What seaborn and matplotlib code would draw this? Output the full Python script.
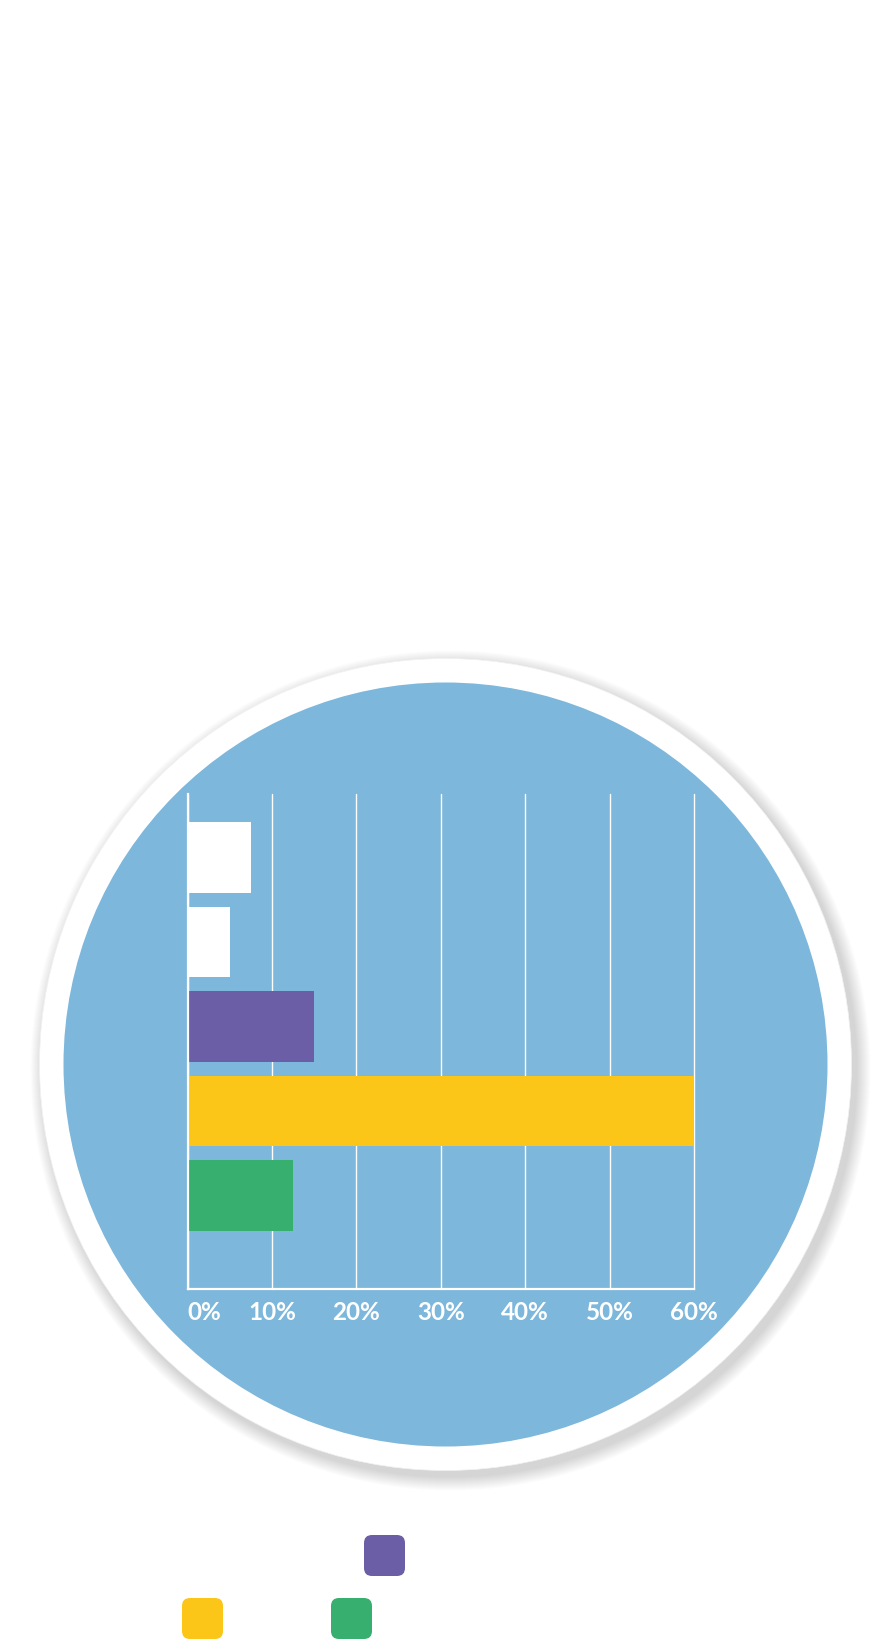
import matplotlib
matplotlib.use('Agg')
import matplotlib.pyplot as plt
from matplotlib.patches import Circle, FancyBboxPatch
import seaborn as sns
import pandas as pd

# Datos del gráfico
categories = ['Categoría 1', 'Categoría 2', 'Categoría 3', 'Categoría 4', 'Categoría 5']
values = [7.5, 5.0, 15.0, 60.0, 12.5]
bar_colors = ['#FFFFFF', '#FFFFFF', '#6B5EA6', '#FBC618', '#37AF6E']
tick_values = [0, 10, 20, 30, 40, 50, 60]
tick_labels = ['0%', '10%', '20%', '30%', '40%', '50%', '60%']

sns.set_theme(style='white')
plt.rcParams['font.family'] = ['Lato', 'DejaVu Sans']

W, H = 890, 1643
fig = plt.figure(figsize=(W / 100, H / 100), dpi=100)
fig.patch.set_facecolor('white')

# Fondo: círculo azul con aro blanco y sombra (coordenadas en píxeles)
bg = fig.add_axes([0, 0, 1, 1], zorder=0)
bg.set_xlim(0, W)
bg.set_ylim(H, 0)
bg.axis('off')

cx, cy = 445.5, 1064.5
for i in range(14):
    bg.add_patch(Circle((cx + 5, cy + 6), 406 + 14 - i, color='#000000',
                        alpha=0.012, lw=0))
bg.add_patch(Circle((cx, cy), 406, color='white', lw=0))
bg.add_patch(Circle((cx, cy), 406, fill=False, ec='#F2F2F2', lw=0.5))
bg.add_patch(Circle((cx, cy), 382, color='#7DB7DB', lw=0))

# Leyenda (solo cuadros redondeados; el texto no se ve en la referencia)
legend_pos = [(182, 1535), (260, 1535), (364, 1535), (182, 1598), (331, 1598)]
for (lx, ly), col in zip(legend_pos, bar_colors):
    bg.add_patch(FancyBboxPatch((lx + 8, ly + 8), 41 - 16, 41 - 16,
                                boxstyle='round,pad=8', color=col, lw=0))

# Gráfico de barras horizontales
left, right, top, bottom = 187.7, 694.0, 793.6, 1289.0
ax = fig.add_axes([left / W, 1 - bottom / H, (right - left) / W, (bottom - top) / H],
                  zorder=1)
df = pd.DataFrame({'cat': categories, 'val': values})
sns.barplot(data=df, x='val', y='cat', hue='cat', palette=bar_colors,
            orient='h', width=0.835, legend=False, ax=ax, saturation=1,
            linewidth=0)
ax.patch.set_alpha(0)
ax.set_xlim(0, 60)
ax.set_ylim(5.105, -0.756)
ax.set_xlabel('')
ax.set_ylabel('')
ax.set_yticks([])
ax.set_xticks(tick_values)
ax.set_xticklabels(tick_labels, color='white', fontsize=17.5, fontweight='bold')
ax.get_xticklabels()[0].set_ha('left')
ax.tick_params(axis='x', length=0, pad=9)
ax.set_axisbelow(True)
ax.grid(axis='x', color='white', linewidth=1.0)
for line in ax.get_xgridlines():
    line.set_clip_on(False)
for s in ['top', 'right']:
    ax.spines[s].set_visible(False)
for s in ['left', 'bottom']:
    ax.spines[s].set_color('white')
    ax.spines[s].set_linewidth(1.6)

fig.savefig('out.png', dpi=100)
